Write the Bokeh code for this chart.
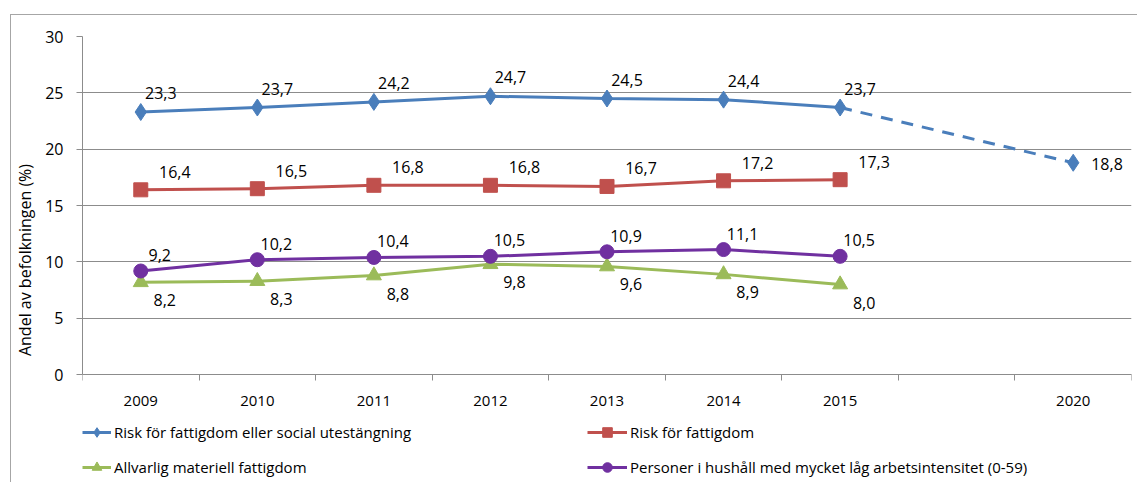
from bokeh.plotting import figure
from bokeh.models import Range1d, FixedTicker, Legend, LegendItem, ColumnDataSource
from bokeh.core.properties import value
from bokeh.embed import file_html
from bokeh.resources import INLINE

categories = ["2009", "2010", "2011", "2012", "2013", "2014", "2015", "", "2020"]
years = ["2009", "2010", "2011", "2012", "2013", "2014", "2015"]
risk_social = [23.3, 23.7, 24.2, 24.7, 24.5, 24.4, 23.7]
risk_poverty = [16.4, 16.5, 16.8, 16.8, 16.7, 17.2, 17.3]
material = [8.2, 8.3, 8.8, 9.8, 9.6, 8.9, 8.0]
low_work = [9.2, 10.2, 10.4, 10.5, 10.9, 11.1, 10.5]
target_years = ["2015", "2020"]
target_values = [23.7, 18.8]
y_ticks = [0, 5, 10, 15, 20, 25, 30]

names = ["Risk för fattigdom eller social utestängning", "Risk för fattigdom",
         "Allvarlig materiell fattigdom",
         "Personer i hushåll med mycket låg arbetsintensitet (0-59)"]

FONT = "Open Sans"
GRAY = "#8c8c8c"

def fmt(v):
    return f"{v:.1f}".replace(".", ",")

xs = [categories.index(y) for y in years]
xt = [categories.index(y) for y in target_years]

# frame extends below zero so the legend can live inside it
p = figure(width=1127, height=468, output_backend="svg", toolbar_location=None,
           x_range=Range1d(-0.5, len(categories) - 0.5),
           y_range=Range1d(-9.65, y_ticks[-1]),
           min_border_left=71, min_border_top=21, min_border_right=7, min_border_bottom=0,
           margin=(14, 0, 0, 10),
           styles={"border-left": "1px solid #a6a6a6", "border-top": "1px solid #a6a6a6"})
p.outline_line_color = None
p.xgrid.grid_line_color = None
p.ygrid.grid_line_color = GRAY
p.ygrid.grid_line_width = 1
p.ygrid.ticker = FixedTicker(ticks=y_ticks)

p.yaxis.ticker = FixedTicker(ticks=y_ticks)
p.yaxis.bounds = (y_ticks[0], y_ticks[-1])
p.yaxis.axis_line_color = GRAY
p.yaxis.major_tick_line_color = GRAY
p.yaxis.major_tick_out = 6
p.yaxis.major_tick_in = 0
p.yaxis.minor_tick_line_color = None
p.yaxis.major_label_text_font = FONT
p.yaxis.major_label_text_font_size = "16px"
p.yaxis.major_label_text_color = "black"
p.yaxis.major_label_standoff = 13
p.yaxis.axis_label = "Andel av befolkningen (%)"
p.yaxis.axis_label_text_font = FONT
p.yaxis.axis_label_text_font_size = "16px"
p.yaxis.axis_label_text_font_style = "normal"
p.yaxis.axis_label_text_color = "black"
p.yaxis.axis_label_standoff = 6

tick_pos = [i for i, c in enumerate(categories) if c]
p.xaxis.fixed_location = 0
p.xaxis.ticker = FixedTicker(ticks=tick_pos,
                             minor_ticks=[i - 0.5 for i in range(len(categories) + 1)])
p.xaxis.major_label_overrides = {i: categories[i] for i in tick_pos}
p.xaxis.axis_line_color = GRAY
p.xaxis.major_tick_line_color = None
p.xaxis.major_tick_out = 6
p.xaxis.minor_tick_line_color = GRAY
p.xaxis.minor_tick_out = 6
p.xaxis.minor_tick_in = 0
p.xaxis.major_label_text_font = FONT
p.xaxis.major_label_text_font_size = "15px"
p.xaxis.major_label_text_color = "black"
p.xaxis.major_label_standoff = 15

BLUE, RED, GREEN, PURPLE = "#4a7ebb", "#c0504d", "#9bbb59", "#7030a0"

# target projection (dashed)
p.line(xt, target_values, line_color=BLUE, line_width=3, line_dash="12 9")
p.scatter(xt[1:], target_values[1:], marker="diamond", size=17, color=BLUE)
p.text(xt[1:], target_values[1:], text=[fmt(v) for v in target_values[1:]],
       x_offset=18, y_offset=1, text_align="left", text_baseline="middle",
       text_font=value(FONT), text_font_size="16px", text_color="black")

series = [
    (risk_social, BLUE, "diamond", 17, (20, -19)),
    (risk_poverty, RED, "square", 14, (34, -18)),
    (material, GREEN, "triangle", 15, (24, 18)),
    (low_work, PURPLE, "circle", 14, (19, -16)),
]
items = []
for (vals, col, mk, sz, off), name in zip(series, names):
    src = ColumnDataSource(dict(x=xs, y=vals, lab=[fmt(v) for v in vals]))
    r1 = p.line("x", "y", source=src, line_color=col, line_width=3)
    r2 = p.scatter("x", "y", source=src, marker=mk, size=sz, color=col)
    p.text("x", "y", text="lab", source=src, x_offset=off[0], y_offset=off[1],
           text_align="center", text_baseline="middle",
           text_font=value(FONT), text_font_size="16px", text_color="black")
    items.append(LegendItem(label=name, renderers=[r1, r2]))

def make_legend(its, loc, gw):
    return Legend(items=its, location=loc, orientation="vertical",
                  glyph_width=gw, glyph_height=24, label_height=20, label_standoff=3,
                  spacing=11, padding=0, margin=0, border_line_color=None,
                  background_fill_alpha=0, label_text_font=FONT,
                  label_text_font_size="15px", label_text_color="black")

p.add_layout(make_legend([items[0], items[2]], (0, 4), 29))
p.add_layout(make_legend([items[1], items[3]], (505, 4), 40))

open("out.html", "w").write(file_html(p, INLINE))
